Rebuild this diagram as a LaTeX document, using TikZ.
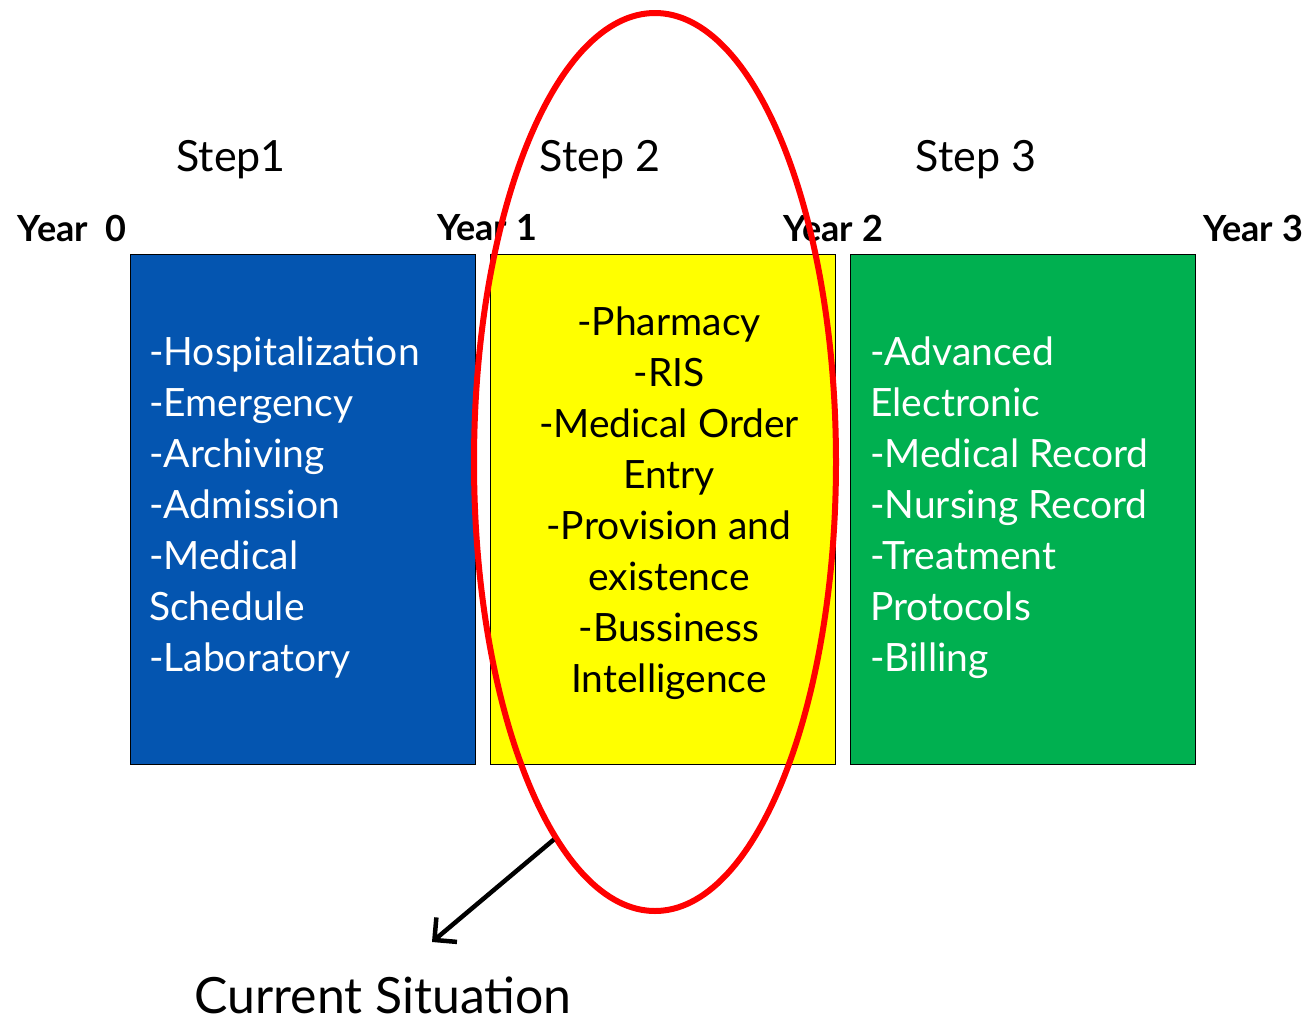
\documentclass[tikz,border=0pt]{standalone}
\usepackage{fontspec}
\setmainfont{Lato}
\usetikzlibrary{shapes.geometric,arrows.meta}
\definecolor{boxblue}{HTML}{0455B0}
\definecolor{boxyellow}{HTML}{FFFF00}
\definecolor{boxgreen}{HTML}{00B050}
\definecolor{ringred}{HTML}{FF0000}
\tikzset{
  stagebox/.style={draw=black, line width=1.4pt, minimum width=345pt, minimum height=510pt, inner sep=0pt, anchor=north west},
  boxtext/.style={font=\fontsize{39}{51}\selectfont, inner sep=0pt},
  steplabel/.style={font=\fontsize{43}{50}\selectfont, inner sep=0pt},
  yearlabel/.style={font=\bfseries\fontsize{36}{40}\selectfont, inner sep=0pt},
}
\begin{document}
\begin{tikzpicture}[x=1pt,y=-1pt]
\useasboundingbox (0,0) rectangle (1312,1023);
\fill[white] (0,0) rectangle (1312,1023);
% boxes
\node[stagebox, fill=boxblue] (b1) at (130,254) {};
\node[stagebox, fill=boxyellow] (b2) at (490,254) {};
\node[stagebox, fill=boxgreen] (b3) at (850,254) {};
% box texts
\node[boxtext, text=white, align=left, anchor=north west] (t1) at (149,337) {-Hospitalization\\-Emergency\\-Archiving\\-Admission\\-Medical\\Schedule\\-Laboratory};
\node[boxtext, text=black, align=center, anchor=north] (t2) at (669,307) {-Pharmacy\\-RIS\\-Medical Order\\Entry\\-Provision and\\existence\\-Bussiness\\Intelligence};
\node[boxtext, text=white, align=left, anchor=north west] (t3) at (870,337) {-Advanced\\Electronic\\-Medical Record\\-Nursing Record\\-Treatment\\Protocols\\-Billing};
% step labels
\node[steplabel] (s1) at (231,160) {Step1};
\node[steplabel] (s2) at (600,160) {Step 2};
\node[steplabel] (s3) at (976,160) {Step 3};
% year labels
\node[yearlabel] (y0) at (72,228) {Year\ \ 0};
\node[yearlabel] (y1) at (487,228) {Year 1};
\node[yearlabel] (y2) at (833,228) {Year 2};
\node[yearlabel] (y3) at (1253,228) {Year 3};
% ellipse
\node[ellipse, draw=ringred, line width=6pt, minimum width=362pt, minimum height=898pt, inner sep=0pt] (ring) at (655,462) {};
% current situation
\node[font=\fontsize{50}{56}\selectfont, inner sep=0pt, anchor=base] (cs) at (383,1013) {Current Situation};
\coordinate (tip) at (432,942);
\draw[line width=4.5pt, -{Straight Barb[length=16pt, width=32pt]}] (ring.255) -- (tip);
\end{tikzpicture}
\end{document}
